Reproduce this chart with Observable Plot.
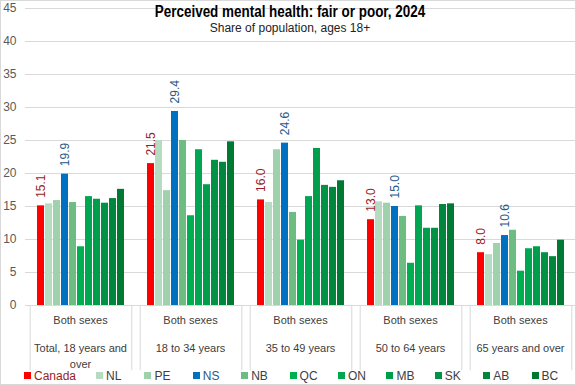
<!DOCTYPE html>
<html>
<head>
<meta charset="utf-8">
<script src="https://cdn.jsdelivr.net/npm/d3@7"></script>
<script src="https://cdn.jsdelivr.net/npm/@observablehq/plot@0.6"></script>
<style>
  html, body { margin: 0; padding: 0; background: #fff; }
  #wrap { position: relative; width: 576px; height: 385px; overflow: hidden; font-family: "Liberation Sans", Arial, sans-serif; }
  #border { position: absolute; left: 0; top: 0; width: 576px; height: 385px; box-sizing: border-box; border: 1px solid #d9d9d9; pointer-events: none; }
  #title { position: absolute; left: 0; width: 576px; top: 3px; text-align: center; padding-left: 4px; box-sizing: border-box;
           font-family: "Liberation Sans", Arial, sans-serif; font-weight: bold; font-size: 16px; color: #000;
           transform: scaleX(0.84); transform-origin: 290px 0; }
  #subtitle { position: absolute; left: 0; width: 576px; top: 21px; text-align: center; padding-left: 4px; box-sizing: border-box;
           font-size: 12px; color: #222; }
  .leg { position: absolute; top: 369px; font-size: 12px; color: #404040; white-space: nowrap; line-height: 14px; }
  .leg i { display: inline-block; width: 7px; height: 7px; margin-right: 3px; vertical-align: 1px; }
</style>
</head>
<body>
<div id="wrap">
  <div id="chart"></div>
  <div id="title">Perceived mental health: fair or poor, 2024</div>
  <div id="subtitle">Share of population, ages 18+</div>
  <div id="legend"></div>
  <div id="border"></div>
</div>
<script>
// ---- Data ----
const sexLabel = "Both sexes";
const groups = ["Total, 18 years and over", "18 to 34 years", "35 to 49 years", "50 to 64 years", "65 years and over"];
const regions = ["Canada", "NL", "PE", "NS", "NB", "QC", "ON", "MB", "SK", "AB", "BC"];
const totalAll = [15.1, 15.4, 15.9, 19.9, 15.6, 8.9, 16.5, 16.1, 15.5, 16.2, 17.6];
const age18to34 = [21.5, 25.0, 17.4, 29.4, 25.0, 13.6, 23.6, 18.3, 22.0, 21.7, 24.8];
const age35to49 = [16.0, 15.6, 23.6, 24.6, 14.1, 9.9, 16.5, 23.8, 18.2, 17.9, 18.9];
const age50to64 = [13.0, 15.7, 15.5, 15.0, 13.5, 6.4, 15.1, 11.7, 11.7, 15.3, 15.4];
const age65plus = [8.0, 7.7, 9.4, 10.6, 11.4, 5.2, 8.6, 8.9, 8.0, 7.4, 9.9];
const yTicks = [0, 5, 10, 15, 20, 25, 30, 35, 40, 45];
const labeledRegions = ["Canada", "NS"];

// ---- Styles ----
const barColors = ["#ff0000", "#b5dcc0", "#a0d1ad", "#0070c0", "#6dbd83", "#00b050", "#00a651", "#009e4a", "#019245", "#00873d", "#007a33"];
const labelColors = {Canada: "#9b1c22", NS: "#2a5a88"};
const legendTextColors = {Canada: "#9b1c22", NS: "#2a5a88"};

const series = [totalAll, age18to34, age35to49, age50to64, age65plus];
const data = groups.flatMap((g, gi) => regions.map((r, i) => ({group: g, region: r, value: series[gi][i]})));

const padIn = 0.16, padOut = 0.8;
const W = 576, H = 385, mL = 25, mR = 1, mT = 8, mB = 80;
const facetW = (W - mL - mR) / groups.length;
const step = facetW / (regions.length - padIn + 2 * padOut);
const edgeOffset = padOut * step + step * (1 - padIn) / 2;

const chart = Plot.plot({
  width: W, height: H,
  marginLeft: mL, marginRight: mR, marginTop: mT, marginBottom: mB,
  style: {fontFamily: "'Liberation Sans', Arial, sans-serif", fontSize: "12px", color: "#595959", background: "transparent"},
  fx: {domain: groups, padding: 0, axis: null},
  x: {domain: regions, paddingInner: padIn, paddingOuter: padOut, axis: null},
  y: {domain: [0, 45], axis: null},
  color: {domain: regions, range: barColors},
  marks: [
    Plot.ruleY(yTicks, {y: d => d, stroke: "#d9d9d9", strokeWidth: 1}),
    Plot.axisY(yTicks, {tickSize: 0, tickPadding: 9, fill: "#595959", fontSize: 12, label: null}),
    Plot.barY(data, {fx: "group", x: "region", y: "value", fill: "region"}),
    Plot.text(data.filter(d => labeledRegions.includes(d.region)), {
      fx: "group", x: "region", y: "value",
      text: d => d.value.toFixed(1), rotate: -90, textAnchor: "start", dy: -8,
      fill: d => labelColors[d.region], fontSize: 12
    }),
    Plot.ruleX(groups, {fx: d => d, x: () => regions[0], dx: -edgeOffset, y1: 0, y2: -9.9, stroke: "#d9d9d9"}),
    Plot.ruleX(groups, {fx: d => d, x: () => regions[regions.length - 1], dx: edgeOffset, y1: 0, y2: -9.9, stroke: "#d9d9d9"}),
    Plot.text(groups, {fx: d => d, frameAnchor: "bottom", text: () => sexLabel, dy: 18, fill: "#404040", fontSize: 11}),
    Plot.text(groups, {fx: d => d, frameAnchor: "bottom", text: d => d, dy: 35, lineAnchor: "top", lineWidth: 9.7, lineHeight: 1.45, fill: "#404040", fontSize: 11})
  ]
});
document.getElementById("chart").append(chart);

// ---- Legend ----
const legend = document.getElementById("legend");
regions.forEach((r, i) => {
  const el = document.createElement("div");
  el.className = "leg";
  el.style.left = (i === 0 ? 24 : 24 + 72 + (i - 1) * 48.4) + "px";
  el.style.color = legendTextColors[r] || "#404040";
  el.innerHTML = `<i style="background:${barColors[i]}"></i>${r}`;
  legend.append(el);
});
</script>
</body>
</html>
